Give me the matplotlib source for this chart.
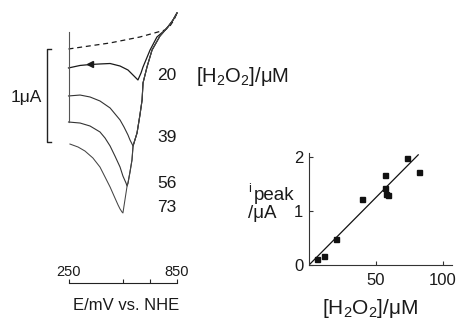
import matplotlib
matplotlib.use("Agg")
import matplotlib.pyplot as plt
from matplotlib.transforms import blended_transform_factory

plt.rcParams['font.family'] = ['Liberation Sans', 'DejaVu Sans']
plt.rcParams['mathtext.fontset'] = 'custom'
plt.rcParams['mathtext.rm'] = 'Liberation Sans'
plt.rcParams['mathtext.it'] = 'Liberation Sans:italic'
plt.rcParams['text.color'] = '#1a1a1a'
plt.rcParams['xtick.labelcolor'] = '#1a1a1a'
plt.rcParams['ytick.labelcolor'] = '#1a1a1a'

# ---------------- data: voltammograms (E in mV vs NHE, current in uA) -------------
conc_labels = ["20", "39", "56", "73"]

E_20 = [850, 822, 784, 739, 701, 662, 651, 634, 612, 579, 535, 480, 424, 369, 314, 250]
i_20 = [0.387, 0.29, 0.204, 0.129, -0.011, -0.194, -0.258, -0.333, -0.290, -0.226,
        -0.183, -0.156, -0.161, -0.167, -0.177, -0.204]

E_39 = [850, 828, 800, 756, 712, 684, 662, 657, 645, 629, 607,
        590, 579, 557, 535, 480, 424, 369, 314, 250]
i_39 = [0.387, 0.312, 0.237, 0.140, -0.011, -0.194, -0.366, -0.548, -0.710, -0.903, -1.043,
        -0.978, -0.925, -0.839, -0.763, -0.634, -0.559, -0.516, -0.495, -0.505]

E_56 = [850, 828, 800, 756, 712, 684, 662, 657, 645, 629, 607, 601, 590, 579, 574,
        568, 551, 535, 507, 480, 452, 424, 369, 314, 250]
i_56 = [0.387, 0.312, 0.237, 0.140, -0.011, -0.194, -0.366, -0.548, -0.710, -0.903, -1.043,
        -1.194, -1.323, -1.441, -1.473,
        -1.441, -1.366, -1.269, -1.151, -1.043, -0.957, -0.892, -0.828, -0.796, -0.785]

E_73 = [850, 828, 800, 756, 712, 684, 662, 657, 645, 629, 607, 601, 590, 579, 574, 562, 551,
        546, 535, 524, 502, 480, 452, 424, 385, 341, 303, 258]
i_73 = [0.387, 0.312, 0.237, 0.140, -0.011, -0.194, -0.366, -0.548, -0.710, -0.903, -1.043,
        -1.194, -1.323, -1.441, -1.473, -1.624, -1.763,
        -1.753, -1.720, -1.677, -1.581, -1.484, -1.376, -1.269, -1.172, -1.097, -1.054, -1.022]

E_blank = [250, 480, 645, 745, 784, 811, 833, 850]
i_blank = [0.0, 0.065, 0.129, 0.183, 0.204, 0.247, 0.312, 0.387]

E_vert = [250, 250]
i_vert = [0.183, -0.785]

arrow_E = 369
arrow_i = -0.165

E_ticks = [250, 550, 700, 850]
E_ticklabels = ["250", "", "", "850"]
scale_bar_uA = 1.0

# ---------------- data: calibration -------------------------------------------------
h2o2_uM = [6.2, 11.2, 20.1, 39.3, 57.0, 56.5, 57.2, 58.7, 73.4, 81.8]
ipeak_uA = [0.11, 0.17, 0.48, 1.22, 1.67, 1.42, 1.31, 1.29, 1.99, 1.73]
fit_conc = [0.0, 81.5]
fit_ipeak = [0.0, 2.04]
cal_xticks = [50, 100]
cal_yticks = [0, 1, 2]

W, H = 461, 322
fig = plt.figure(figsize=(W / 100, H / 100), dpi=100)


def fx(x):
    return x / W


def fy(y):
    return 1 - y / H


# ---------------- left panel ----------------
axL = fig.add_axes([fx(68.5), fy(283), fx(177) - fx(68.5), fy(13) - fy(283)])
axL.set_xlim(250, 850)
axL.set_ylim(-2.516, 0.387)
for s in ['top', 'right', 'left']:
    axL.spines[s].set_visible(False)
axL.spines['bottom'].set_linewidth(0.8)
axL.spines['bottom'].set_color('#222222')
axL.set_yticks([])
axL.set_xticks(E_ticks)
axL.set_xticklabels([])
axL.tick_params(axis='x', direction='in', length=3, width=0.8, color='#222222')
axL.patch.set_alpha(0)

lc = '#1a1a1a'
axL.plot(E_blank, i_blank, color=lc, lw=0.9, ls=(0, (4, 3)), clip_on=False)
axL.plot(E_20, i_20, color=lc, lw=0.9, clip_on=False)
axL.plot(E_39, i_39, color='#333333', lw=0.8, clip_on=False)
axL.plot(E_56, i_56, color='#333333', lw=0.8, clip_on=False)
axL.plot(E_73, i_73, color='#444444', lw=0.75, clip_on=False)
axL.plot(E_vert, i_vert, color='#555555', lw=0.8, clip_on=False)
axL.plot([arrow_E], [arrow_i], marker='<', color=lc, ms=4, clip_on=False)

trL = blended_transform_factory(axL.transData, axL.transAxes)
for v, lab in zip(E_ticks, E_ticklabels):
    if lab:
        axL.text(v, 0.015, lab, transform=trL, ha='center', va='bottom', fontsize=10.5)

# 1 uA scale bracket (E outside plotted range, drawn unclipped)
bx, sx = 131, 152
axL.plot([sx, bx, bx, sx], [0.0, 0.0, -scale_bar_uA, -scale_bar_uA],
         color='#222222', lw=1.0, clip_on=False)
fig.text(fx(42), fy(97), "1μA", ha='right', va='center', fontsize=12.5)

for lab, y in zip(conc_labels, [75, 138, 184, 207]):
    fig.text(fx(157), fy(y), lab, ha='left', va='center', fontsize=12.5)
fig.text(fx(196), fy(77), r"[H$_2$O$_2$]/μM", ha='left', va='center', fontsize=14.5)
fig.text(fx(126), fy(305), "E/mV vs. NHE", ha='center', va='center', fontsize=12)

# ---------------- right panel ----------------
x0, x100 = 309, 443
xmax = (452 - x0) / (x100 - x0) * 100
y0, y2 = 265, 157
ymax = (y0 - 153) / (y0 - y2) * 2
axR = fig.add_axes([fx(309), fy(265), fx(452) - fx(309), fy(153) - fy(265)])
axR.set_xlim(0, xmax)
axR.set_ylim(0, ymax)
for s in ['top', 'right']:
    axR.spines[s].set_visible(False)
for s in ['left', 'bottom']:
    axR.spines[s].set_linewidth(0.8)
    axR.spines[s].set_color('#333333')
axR.set_xticks(cal_xticks)
axR.set_yticks(cal_yticks)
axR.tick_params(direction='in', length=3, width=0.8, labelsize=12, color='#333333')
axR.tick_params(axis='x', pad=5.5)
axR.tick_params(axis='y', pad=4)
axR.patch.set_alpha(0)
axR.plot(fit_conc, fit_ipeak, color='#111111', lw=0.9)
axR.plot(h2o2_uM, ipeak_uA, 's', color='#111111', ms=3.6, clip_on=False)

fig.text(fx(370), fy(309), r"[H$_2$O$_2$]/μM", ha='center', va='center', fontsize=15)
fig.text(fx(248), fy(189), "i", ha='left', va='center', fontsize=9)
fig.text(fx(254), fy(196), "peak", ha='left', va='center', fontsize=13.5)
fig.text(fx(248), fy(214), "/μA", ha='left', va='center', fontsize=13.5)

fig.savefig("out.png", dpi=100)
